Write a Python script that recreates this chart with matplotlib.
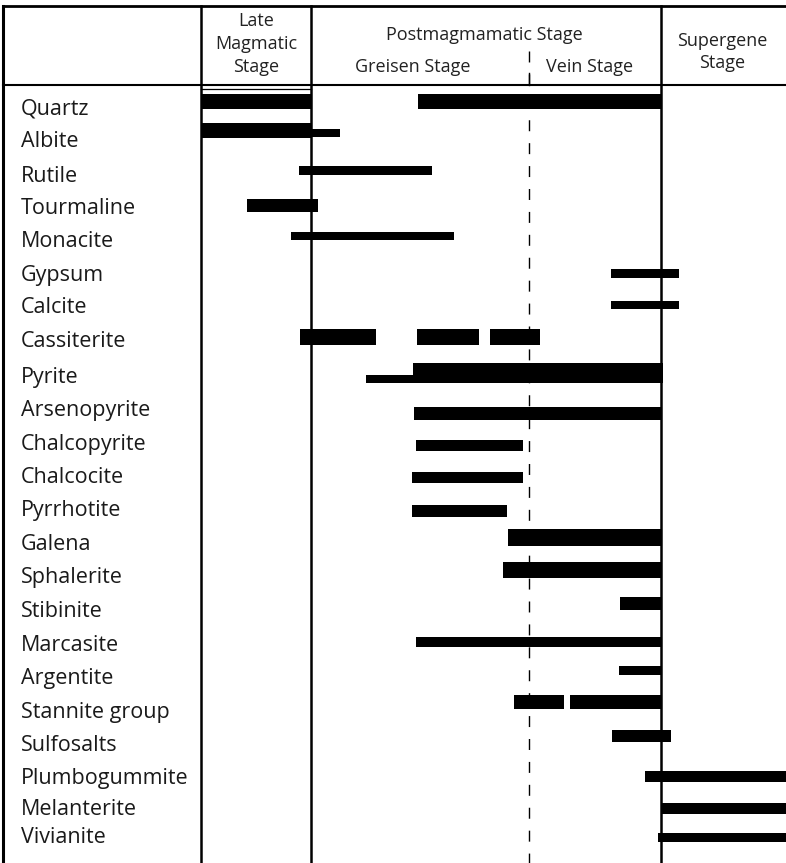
import matplotlib
matplotlib.use("Agg")
import matplotlib.pyplot as plt

### Mineral paragenesis chart. x runs along the sequence of stages (same scale as the picture width)

MINERALS = ["Quartz", "Albite", "Rutile", "Tourmaline", "Monacite", "Gypsum", "Calcite",
			"Cassiterite", "Pyrite", "Arsenopyrite", "Chalcopyrite", "Chalcocite", "Pyrrhotite",
			"Galena", "Sphalerite", "Stibinite", "Marcasite", "Argentite", "Stannite group",
			"Sulfosalts", "Plumbogummite", "Melanterite", "Vivianite"]

#	(start, end) of every period of formation, one list per mineral
SPANS = [
	[(202, 311), (418, 661)],
	[(202, 311), (311, 340)],
	[(299, 432)],
	[(247, 318)],
	[(291, 454)],
	[(611, 679)],
	[(611, 679)],
	[(300, 376), (417, 479), (490, 540)],
	[(413, 663), (366, 413)],
	[(414, 661)],
	[(416, 523)],
	[(412, 523)],
	[(412, 507)],
	[(508, 661)],
	[(503, 661)],
	[(620, 661)],
	[(416, 661)],
	[(619, 661)],
	[(514, 564), (570, 661)],
	[(612, 671)],
	[(645, 786)],
	[(661, 786)],
	[(658, 786)],
]

#	stage boundaries
STAGE_START = 201
LATE_END = 311
GREISEN_END = 529
POST_END = 661
RIGHT_EDGE = 786

### Layout (pixels): label rows, bar centres and bar thicknesses

ROW_Y = [108, 140, 175, 207, 240, 274, 306, 340, 376, 409, 443, 476, 509, 543, 576,
		 610, 644, 677, 711, 744, 777, 808, 836]
BAR_Y = [[102, 102], [130.5, 133], [171], [205], [236], [273], [305], [337, 337, 337],
		 [373, 379], [413], [445], [477], [511], [537], [570], [603], [642], [670],
		 [702, 702], [736], [776], [808], [837]]
BAR_H = [[15, 15], [15, 8], [9], [13], [8], [9], [8], [16, 16, 16], [20, 8], [13], [11],
		 [11], [12], [17], [16], [13], [10], [9], [14, 14], [12], [11], [11], [9]]

W, H = 786, 863

plt.rcParams['font.family'] = ['Open Sans', 'DejaVu Sans']

fig = plt.figure(figsize=(W / 100, H / 100), dpi=100)
ax = fig.add_axes([0, 0, 1, 1])
ax.set_xlim(0, W)
ax.set_ylim(H, 0)
ax.axis("off")

#	frame of the table
ax.plot([3, W], [6, 6], color="black", lw=2.0)
ax.plot([3, W], [85, 85], color="black", lw=1.5)
ax.plot([3, 3], [6, H], color="black", lw=2.2)
for xv in [STAGE_START, LATE_END, POST_END]:
	ax.plot([xv, xv], [6, H], color="black", lw=1.8)

#	greisen / vein divider
ax.plot([GREISEN_END, GREISEN_END], [51, H], color="black", lw=1.0,
		linestyle=(0, (7.9, 8.6)))
ax.plot([GREISEN_END, GREISEN_END], [73, 85], color="black", lw=1.0)

#	thin line over the first quartz bar
ax.plot([STAGE_START, LATE_END], [89.5, 89.5], color="black", lw=0.9)

#	header texts
hdr = dict(ha="center", va="center", fontsize=13, color="#222222")
late_c = (STAGE_START + LATE_END) / 2
ax.text(late_c, 21, "Late", **hdr)
ax.text(late_c, 44, "Magmatic", **hdr)
ax.text(late_c, 67, "Stage", **hdr)
ax.text(484, 35, "Postmagmamatic Stage", **hdr)
ax.text(413, 67, "Greisen Stage", **hdr)
ax.text(590, 67, "Vein Stage", **hdr)
ax.text(722, 41, "Supergene", **hdr)
ax.text(722, 63, "Stage", **hdr)

#	mineral names and bars
for i, name in enumerate(MINERALS):
	ax.text(21, ROW_Y[i] + 1.5, name, ha="left", va="center", fontsize=15.5, color="#1a1a1a")
	for j, (x0, x1) in enumerate(SPANS[i]):
		ax.barh(BAR_Y[i][j], x1 - x0, left=x0, height=BAR_H[i][j], color="black", zorder=3)

fig.savefig("out.png", dpi=100)
